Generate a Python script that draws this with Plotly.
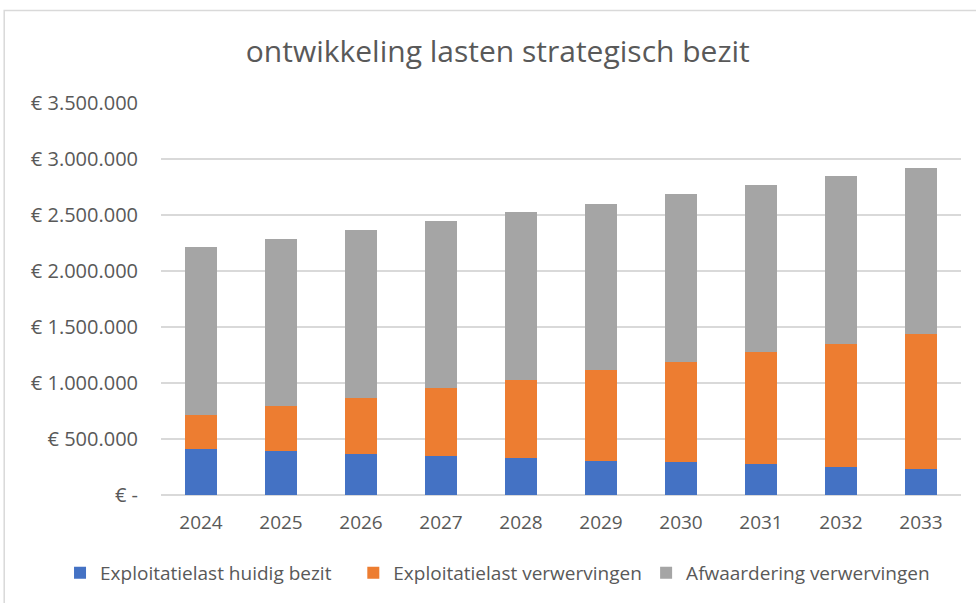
import plotly.graph_objects as go

# data
years = ["2024", "2025", "2026", "2027", "2028", "2029", "2030", "2031", "2032", "2033"]
huidig_bezit = [410000, 390000, 370000, 350000, 330000, 305000, 292000, 274000, 250000, 230000]
expl_verwervingen = [300000, 405000, 500000, 605000, 700000, 808000, 896000, 1000000, 1098000, 1205000]
afwaardering = [1500000, 1488000, 1500000, 1489000, 1500000, 1489000, 1503000, 1491000, 1500000, 1488000]

tick_vals = [0, 500000, 1000000, 1500000, 2000000, 2500000, 3000000, 3500000]
tick_text = ["€ -", "€ 500.000", "€ 1.000.000", "€ 1.500.000", "€ 2.000.000",
             "€ 2.500.000", "€ 3.000.000", "€ 3.500.000"]

series = [
    ("Exploitatielast huidig bezit", huidig_bezit, "#4472C4"),
    ("Exploitatielast verwervingen", expl_verwervingen, "#ED7D31"),
    ("Afwaardering verwervingen", afwaardering, "#A5A5A5"),
]

# one legend per series so the entries can sit spread out like in Excel
legend_ids = ["legend", "legend2", "legend3"]
legend_x = [0.0615, 0.362, 0.662]

fig = go.Figure()
for (name, vals, color), lid in zip(series, legend_ids):
    fig.add_trace(go.Bar(
        x=years, y=vals, name=name,
        marker=dict(color=color, line=dict(width=0)),
        legend=lid,
    ))

font_family = "Open Sans, Liberation Sans, sans-serif"

legends = {}
for lid, lx in zip(legend_ids, legend_x):
    legends[lid] = dict(
        orientation="h",
        xref="container", yref="container",
        x=lx, xanchor="left",
        y=0.05, yanchor="middle",
        font=dict(size=19, color="#595959"),
        itemwidth=30,
        bgcolor="rgba(0,0,0,0)",
    )

fig.update_layout(
    barmode="stack",
    bargap=0.6,
    width=976, height=603,
    margin=dict(l=161, r=15, t=103, b=108, autoexpand=False),
    paper_bgcolor="white",
    plot_bgcolor="white",
    font=dict(family=font_family, color="#595959", size=18),
    title=dict(
        text="ontwikkeling lasten strategisch bezit",
        x=0.51, xanchor="center",
        y=0.915, yanchor="middle",
        font=dict(size=30, color="#595959", family=font_family),
    ),
    showlegend=True,
    **legends,
)

fig.update_yaxes(
    range=[0, 3500000],
    tickvals=tick_vals, ticktext=tick_text,
    showgrid=True, gridcolor="#D9D9D9", gridwidth=1.5,
    zeroline=True, zerolinecolor="#D9D9D9", zerolinewidth=1.5,
    showline=False, ticks="", ticklen=0,
    ticklabelstandoff=22,
    tickfont=dict(size=20, color="#595959"),
    fixedrange=True,
)
fig.update_xaxes(
    showgrid=False, showline=False, ticks="",
    ticklabelstandoff=14,
    tickfont=dict(size=19, color="#595959"),
)

# light border around the chart area, as in the spreadsheet screenshot
fig.add_shape(
    type="rect", xref="paper", yref="paper",
    x0=-0.196, y0=-0.35, x1=1.1, y1=1.236,
    line=dict(color="#D9D9D9", width=1.5),
    layer="below",
)

fig.write_html("out.html", config={"displayModeBar": False},
               post_script="document.body.style.margin='0';")
